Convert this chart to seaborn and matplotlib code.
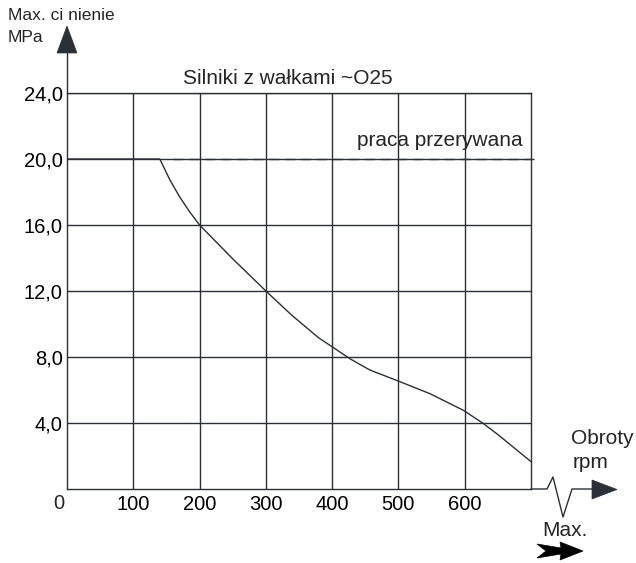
import matplotlib
matplotlib.use("Agg")
import matplotlib.pyplot as plt
import seaborn as sns
import pandas as pd
from matplotlib.patches import Polygon
from matplotlib.lines import Line2D

# ---- data ----
rpm = [0, 140, 155, 170, 185, 200, 250, 300, 340, 380, 400, 427, 457, 500, 548, 598, 627, 650, 700]
pressure = [20.0, 20.0, 18.75, 17.7, 16.8, 16.0, 13.95, 12.0, 10.5, 9.15, 8.62, 7.89, 7.21,
            6.54, 5.77, 4.77, 4.0, 3.3, 1.66]
dash_x = [160, 705]
dash_y = [20.0, 20.0]
x_ticks = [100, 200, 300, 400, 500, 600]
x_tick_labels = ["100", "200", "300", "400", "500", "600"]
y_ticks = [4, 8, 12, 16, 20, 24]
y_tick_labels = ["4,0", "8,0", "12,0", "16,0", "20,0", "24,0"]
title = "Silniki z wałkami ~O25"
dash_label = "praca przerywana"
y_label_1 = "Max. ci nienie"
y_label_2 = "MPa"
x_label_1 = "Obroty"
x_label_2 = "rpm"
max_label = "Max."

sns.set_style("white")
plt.rcParams['font.family'] = ['Liberation Sans', 'DejaVu Sans']

W, H = 636, 563
fig = plt.figure(figsize=(W / 100, H / 100), dpi=100)
ax = fig.add_axes([67 / W, 1 - 489 / H, (531 - 67) / W, (489 - 93) / H])

C = '#2b2f36'
df = pd.DataFrame({"rpm": rpm, "p": pressure})
sns.lineplot(data=df, x="rpm", y="p", ax=ax, color=C, lw=1.0)
ax.plot(dash_x, dash_y, color=C, lw=1.0, dashes=(7, 4.5), clip_on=False)

ax.set_xlim(0, 700)
ax.set_ylim(0, 24)
ax.set_xticks(x_ticks)
ax.set_xticklabels(x_tick_labels)
ax.set_yticks(y_ticks)
ax.set_yticklabels(y_tick_labels)
ax.tick_params(axis='both', length=0, labelsize=14.5, colors='black')
ax.tick_params(axis='x', pad=4)
ax.tick_params(axis='y', pad=3)
ax.set_xlabel("")
ax.set_ylabel("")
ax.grid(True, color=C, lw=1.0)
for s in ax.spines.values():
    s.set_color(C)
    s.set_linewidth(1.0)

ax.text(-13, -0.3, "0", ha='center', va='top', fontsize=14.5, transform=ax.transData)
ax.text(333, 24.9, title, ha='center', va='center', fontsize=15)
ax.text(688, 21.15, dash_label, ha='right', va='center', fontsize=15)

def P(x, y):
    return (x / W, 1 - y / H)

tf = fig.transFigure
# y axis extension and arrow
fig.add_artist(Line2D(*zip(P(67, 93), P(67, 53)), transform=tf, color=C, lw=1.0))
fig.add_artist(Polygon([P(57, 53), P(67, 26), P(77, 53)], closed=True,
                       transform=tf, facecolor=C, edgecolor=C, lw=0.5))
# x axis extension with zigzag and arrow
zz = [P(531, 489), P(547, 489), P(553, 477), P(563, 517), P(572, 489), P(593, 489)]
fig.add_artist(Line2D([p[0] for p in zz], [p[1] for p in zz], transform=tf, color=C, lw=1.0))
fig.add_artist(Polygon([P(592, 480), P(617, 489.5), P(592, 499)], closed=True,
                       transform=tf, facecolor=C, edgecolor=C, lw=0.5))
# Max. arrow
fig.add_artist(Polygon([P(537, 544), P(561, 548), P(560, 542), P(583, 551),
                        P(560, 560), P(561, 554), P(537, 558), P(546, 551)],
                       closed=True, transform=tf, facecolor='black', edgecolor='black', lw=0.5))

fig.text(8 / W, 1 - 15 / H, y_label_1, ha='left', va='center', fontsize=12.5)
fig.text(8 / W, 1 - 37 / H, y_label_2, ha='left', va='center', fontsize=12.5)
fig.text(602 / W, 1 - 439 / H, x_label_1, ha='center', va='center', fontsize=15)
fig.text(591 / W, 1 - 463 / H, x_label_2, ha='center', va='center', fontsize=15)
fig.text(565 / W, 1 - 530 / H, max_label, ha='center', va='center', fontsize=15)

fig.savefig("out.png", dpi=100)
